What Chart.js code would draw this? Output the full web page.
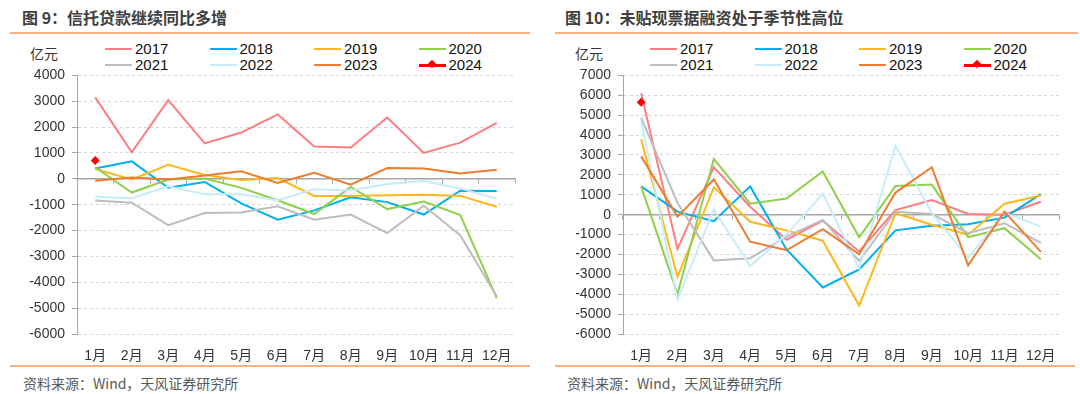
<!DOCTYPE html>
<html>
<head>
<meta charset="utf-8">
<script src="https://cdn.jsdelivr.net/npm/chart.js@4.4.1/dist/chart.umd.min.js"></script>
<style>
  html, body { margin: 0; padding: 0; background: #fff; }
  #wrap { position: relative; width: 1080px; height: 394px; background: #fff; overflow: hidden;
          font-family: "Liberation Sans", "Noto Sans CJK SC", sans-serif; }
  .title { position: absolute; top: 6px; font: bold 16px "Noto Sans CJK SC", sans-serif; color: #404040; line-height: 22px; white-space: nowrap; }
  .rule { position: absolute; height: 2px; background: #F4B183; }
  .foot { position: absolute; top: 373px; font: 14px "Noto Sans CJK SC", sans-serif; color: #595959; line-height: 20px; white-space: nowrap; }
  .unit { position: absolute; top: 43px; font: 14px "Noto Sans CJK SC", sans-serif; color: #333; line-height: 20px; }
  .lg { position: absolute; height: 18px; line-height: 18px; font: 15px "Liberation Sans", sans-serif; color: #111; white-space: nowrap; }
  .lg .sw { display: inline-block; position: relative; width: 27px; height: 2px; vertical-align: middle; margin-right: 3px; top: -1px; }
  .lg .dm { position: absolute; left: 10px; top: -3px; width: 6px; height: 6px; background: #FF0000; transform: rotate(45deg); }
  canvas { position: absolute; top: 60px; }
</style>
</head>
<body>
<div id="wrap">
  <div class="title" style="left:22px">图 9：信托贷款继续同比多增</div>
  <div class="title" style="left:565px">图 10：未贴现票据融资处于季节性高位</div>
  <div class="rule" style="left:10px;width:520px;top:32px"></div>
  <div class="rule" style="left:555px;width:523px;top:32px"></div>
  <div class="rule" style="left:10px;width:520px;top:365px"></div>
  <div class="rule" style="left:555px;width:520px;top:365px"></div>
  <div class="foot" style="left:23px">资料来源：Wind，天风证券研究所</div>
  <div class="foot" style="left:567px">资料来源：Wind，天风证券研究所</div>
  <div class="unit" style="left:30px">亿元</div>
  <div class="unit" style="left:575px">亿元</div>
  <div id="legL"></div>
  <div id="legR"></div>
  <canvas id="cL" width="540" height="305" style="left:0px"></canvas>
  <canvas id="cR" width="540" height="305" style="left:540px"></canvas>
</div>
<script>
// ---- categories / series ----
const months = ['1月','2月','3月','4月','5月','6月','7月','8月','9月','10月','11月','12月'];
const years = ['2017','2018','2019','2020','2021','2022','2023','2024'];
const colors = ['#FF7C80','#00B0F0','#FFB81C','#8FCF4B','#BDBDBD','#C6ECFA','#ED7D31','#FF0000'];

// 图9 信托贷款（亿元）
const trust2017 = [3150, 1030, 3040, 1370, 1790, 2490, 1250, 1210, 2370, 1000, 1400, 2160];
const trust2018 = [400, 675, -345, -120, -950, -1580, -1220, -710, -900, -1380, -460, -470];
const trust2019 = [380, -25, 545, 150, -40, 30, -660, -660, -630, -620, -660, -1080];
const trust2020 = [450, -530, -30, 10, -350, -830, -1360, -310, -1170, -880, -1400, -4610];
const trust2021 = [-840, -920, -1790, -1320, -1300, -1060, -1580, -1380, -2100, -1040, -2180, -4550];
const trust2022 = [-690, -750, -290, -600, -600, -830, -405, -450, -200, -80, -370, -770];
const trust2023 = [-70, 50, -25, 130, 295, -160, 235, -225, 420, 400, 205, 355];
const trust2024 = [710, null, null, null, null, null, null, null, null, null, null, null];

// 图10 未贴现票据（亿元）
const bill2017 = [6100, -1720, 2380, 400, -1260, -300, -1850, 230, 730, 30, 0, 650];
const bill2018 = [1420, 150, -330, 1420, -1750, -3660, -2750, -790, -560, -480, -150, 1030];
const bill2019 = [3790, -3130, 1370, -360, -790, -1310, -4570, 70, -510, -1010, 550, 960];
const bill2020 = [1420, -3990, 2800, 550, 810, 2170, -1140, 1440, 1510, -1130, -680, -2240];
const bill2021 = [4870, 600, -2300, -2190, -1100, -265, -2330, 150, 30, -930, -430, -1420];
const bill2022 = [4700, -4270, 265, -2580, -1000, 1060, -2710, 3460, 70, -2170, 100, -600];
const bill2023 = [2930, -100, 1770, -1360, -1790, -730, -2000, 1110, 2380, -2550, 150, -1870];
const bill2024 = [5650, null, null, null, null, null, null, null, null, null, null, null];

const leftTicks = { min: -6000, max: 4000, step: 1000 };
const rightTicks = { min: -6000, max: 7000, step: 1000 };

const trustSeries = [trust2017, trust2018, trust2019, trust2020, trust2021, trust2022, trust2023, trust2024];
const billSeries = [bill2017, bill2018, bill2019, bill2020, bill2021, bill2022, bill2023, bill2024];

// ---- legends (HTML) ----
function buildLegend(id, startX) {
  const host = document.getElementById(id);
  years.forEach((y, i) => {
    const col = i % 4, row = Math.floor(i / 4);
    const d = document.createElement('div');
    d.className = 'lg';
    d.style.left = (startX + col * 104.5) + 'px';
    d.style.top = (40 + row * 16) + 'px';
    const sw = document.createElement('span');
    sw.className = 'sw';
    sw.style.background = colors[i];
    if (i === 7) {
      sw.style.height = '3px';
      const dm = document.createElement('span');
      dm.className = 'dm';
      sw.appendChild(dm);
    }
    d.appendChild(sw);
    d.appendChild(document.createTextNode(y));
    host.appendChild(d);
  });
}
buildLegend('legL', 105);
buildLegend('legR', 650);

const tickFont = { family: '"Liberation Sans", "Noto Sans CJK SC", sans-serif', size: 14 };

function makeChart(canvasId, series, tk, yWidth, padRight) {
  const datasets = series.map((data, i) => ({
    label: years[i],
    data: data,
    borderColor: colors[i],
    backgroundColor: colors[i],
    borderWidth: 2,
    tension: 0,
    pointRadius: i === 7 ? 4.5 : 0,
    pointStyle: 'rectRot',
    pointBorderWidth: 0,
    pointHoverRadius: 0,
    spanGaps: false,
    order: 7 - i,
    xAxisID: 'x',
    yAxisID: 'y'
  }));
  return new Chart(document.getElementById(canvasId), {
    type: 'line',
    data: { labels: months, datasets },
    options: {
      responsive: false,
      animation: false,
      events: [],
      layout: { padding: { left: 0, right: padRight, top: 12, bottom: 3 } },
      plugins: { legend: { display: false }, tooltip: { enabled: false }, title: { display: false } },
      scales: {
        y: {
          position: 'left',
          min: tk.min, max: tk.max,
          afterFit: s => { s.width = yWidth; },
          ticks: { stepSize: tk.step, color: '#333', font: tickFont, padding: 7,
                   callback: v => String(v) },
          grid: { color: '#D4D4D4', lineWidth: 1, drawTicks: true, tickLength: 5,
                  tickColor: '#A6A6A6', tickWidth: 1 },
          border: { display: true, color: '#A6A6A6', width: 1, dash: [3, 3] }
        },
        x: {
          type: 'category',
          position: { y: 0 },
          offset: true,
          ticks: { display: false },
          grid: { display: true, drawOnChartArea: false, drawTicks: true, tickLength: 4,
                  offset: true, tickColor: '#A6A6A6', color: '#A6A6A6' },
          border: { display: true, color: '#A6A6A6', width: 1.5 }
        },
        x2: {
          type: 'category',
          position: 'bottom',
          offset: true,
          afterFit: s => { s.height = 28; },
          ticks: { color: '#333', font: tickFont, padding: 6, maxRotation: 0, autoSkip: false },
          grid: { display: false },
          border: { display: false }
        }
      }
    }
  });
}

makeChart('cL', trustSeries, leftTicks, 77, 25);
makeChart('cR', billSeries, rightTicks, 83, 21);
</script>
</body>
</html>
